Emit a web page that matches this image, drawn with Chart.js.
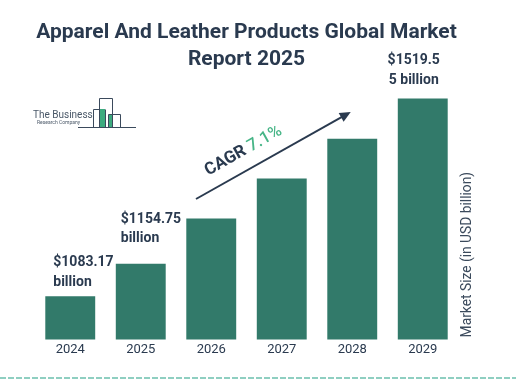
<!DOCTYPE html>
<html>
<head>
<meta charset="utf-8">
<script src="https://cdn.jsdelivr.net/npm/chart.js@4.4.1/dist/chart.umd.min.js"></script>
<style>
  html, body { margin: 0; padding: 0; background: #ffffff; }
  #wrap { width: 516px; height: 379px; position: relative; }
</style>
</head>
<body>
<div id="wrap"><canvas id="c" width="516" height="379"></canvas></div>
<script>
// ---- data ----
const years = ['2024', '2025', '2026', '2027', '2028', '2029'];
const marketSize = [1083.17, 1154.75, 1255, 1343, 1431, 1519.55];
const valueLabels = [['$1083.17', 'billion'], ['$1154.75', 'billion'], null, null, null, ['$1519.5', '5 billion']];
const titleLines = ['Apparel And Leather Products Global Market', 'Report 2025'];
const axisTitle = 'Market Size (in USD billion)';
const cagrText = 'CAGR ';
const cagrValue = '7.1%';

const DARK = '#2a3a4f';
const BAR = '#327a6a';
const GREEN = '#47b587';
const FONT = 'Roboto, "Noto Sans", sans-serif';

const decorPlugin = {
  id: 'decor',
  afterDatasetsDraw(chart) {
    const ctx = chart.ctx;
    const meta = chart.getDatasetMeta(0);
    const area = chart.chartArea;

    // value labels
    ctx.save();
    ctx.fillStyle = DARK;
    ctx.font = 'bold 14px ' + FONT;
    ctx.textBaseline = 'middle';
    meta.data.forEach((bar, i) => {
      const lab = valueLabels[i];
      if (!lab) return;
      const left = bar.x - bar.width / 2;
      if (i === 5) {
        ctx.textAlign = 'center';
        ctx.fillText(lab[0], bar.x - 9, bar.y - 38);
        ctx.fillText(lab[1], bar.x - 9, bar.y - 18);
      } else if (i === 0) {
        ctx.textAlign = 'left';
        ctx.fillText(lab[0], left + 8, bar.y - 34);
        ctx.fillText(lab[1], left + 8, bar.y - 14);
      } else {
        ctx.textAlign = 'left';
        ctx.fillText(lab[0], left + 5, bar.y - 44);
        ctx.fillText(lab[1], left + 5, bar.y - 25);
      }
    });
    ctx.restore();

    // y axis title (rotated, reading bottom-to-top)
    ctx.save();
    ctx.translate(area.right + 9.5, area.bottom - 2);
    ctx.rotate(-Math.PI / 2);
    ctx.fillStyle = '#3b4a5c';
    ctx.font = '13.8px ' + FONT;
    ctx.textAlign = 'left';
    ctx.textBaseline = 'middle';
    ctx.fillText(axisTitle, 0, 0);
    ctx.restore();

    // CAGR arrow
    const x0 = 196, y0 = 199, x1 = 349, y1 = 113;
    const ang = Math.atan2(y1 - y0, x1 - x0);
    ctx.save();
    ctx.strokeStyle = DARK;
    ctx.fillStyle = DARK;
    ctx.lineWidth = 2;
    ctx.beginPath();
    ctx.moveTo(x0, y0);
    ctx.lineTo(x1 - 6 * Math.cos(ang), y1 - 6 * Math.sin(ang));
    ctx.stroke();
    ctx.translate(x1, y1);
    ctx.rotate(ang);
    ctx.beginPath();
    ctx.moveTo(2, 0);
    ctx.lineTo(-9, -5);
    ctx.lineTo(-9, 5);
    ctx.closePath();
    ctx.fill();
    ctx.restore();

    // CAGR text
    ctx.save();
    ctx.translate(243.5, 151);
    ctx.rotate(ang);
    ctx.textBaseline = 'middle';
    ctx.textAlign = 'left';
    ctx.font = 'bold 17px ' + FONT;
    const w1 = ctx.measureText(cagrText).width;
    ctx.font = '500 17px ' + FONT;
    const w2 = ctx.measureText(cagrValue).width;
    const start = -(w1 + w2) / 2;
    ctx.font = 'bold 17px ' + FONT;
    ctx.fillStyle = DARK;
    ctx.fillText(cagrText, start, 0);
    ctx.font = '500 17px ' + FONT;
    ctx.fillStyle = GREEN;
    ctx.fillText(cagrValue, start + w1, 0);
    ctx.restore();

    // logo
    ctx.save();
    ctx.fillStyle = '#4a5868';
    ctx.font = '10px ' + FONT;
    ctx.textAlign = 'left';
    ctx.textBaseline = 'middle';
    ctx.fillText('The Business', 33, 115);
    ctx.font = '5px ' + FONT;
    ctx.fillText('Research Company', 37, 123);
    ctx.fillStyle = '#3dab7f';
    ctx.fillRect(100, 109, 5, 18);
    ctx.fillRect(109, 114, 3, 13);
    ctx.strokeStyle = '#3b4a5c';
    ctx.lineWidth = 1;
    ctx.beginPath();
    ctx.moveTo(78, 127.5);
    ctx.lineTo(136, 127.5);
    ctx.moveTo(93.5, 127.5);
    ctx.lineTo(93.5, 109.5);
    ctx.lineTo(99.5, 109.5);
    ctx.moveTo(99.5, 127.5);
    ctx.lineTo(99.5, 98.5);
    ctx.lineTo(112.5, 98.5);
    ctx.lineTo(112.5, 127.5);
    ctx.moveTo(105.5, 127.5);
    ctx.lineTo(105.5, 109.5);
    ctx.moveTo(108.5, 127.5);
    ctx.lineTo(108.5, 114.5);
    ctx.lineTo(120.5, 114.5);
    ctx.lineTo(120.5, 127.5);
    ctx.stroke();
    ctx.restore();

    // dashed bottom line
    ctx.save();
    ctx.strokeStyle = '#8fcfc1';
    ctx.lineWidth = 2;
    ctx.setLineDash([6, 2]);
    ctx.beginPath();
    ctx.moveTo(0, 378);
    ctx.lineTo(516, 378);
    ctx.stroke();
    ctx.restore();
  }
};

new Chart(document.getElementById('c'), {
  type: 'bar',
  data: {
    labels: years,
    datasets: [{
      data: marketSize,
      backgroundColor: BAR,
      borderWidth: 0,
      categoryPercentage: 1,
      barPercentage: 0.708
    }]
  },
  options: {
    responsive: false,
    animation: false,
    devicePixelRatio: 1,
    layout: { padding: { left: 35, right: 58, top: 0, bottom: 18 } },
    plugins: {
      legend: { display: false },
      tooltip: { enabled: false },
      title: {
        display: true,
        text: titleLines,
        color: DARK,
        font: { family: FONT, size: 21, weight: 'bold', lineHeight: 1.25 },
        padding: { top: 20, bottom: 0 }
      }
    },
    scales: {
      x: {
        grid: { display: false, drawTicks: false },
        border: { display: false },
        ticks: { color: DARK, font: { family: FONT, size: 13 }, padding: 3 }
      },
      y: {
        display: false,
        min: 988,
        max: 1577
      }
    }
  },
  plugins: [decorPlugin]
});
</script>
</body>
</html>
